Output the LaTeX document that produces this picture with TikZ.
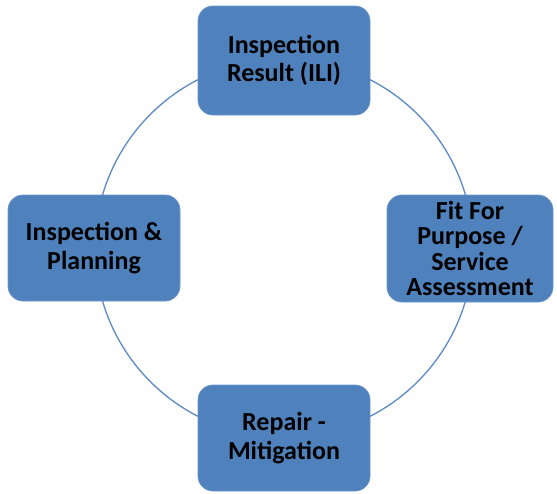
\documentclass[tikz,border=0pt]{standalone}
\usepackage{fontspec}
\setmainfont{Carlito}
\definecolor{boxfill}{HTML}{4F81BD}
\definecolor{boxedge}{HTML}{6B95C9}
\definecolor{ringcol}{HTML}{5A8AC6}
\begin{document}
\begin{tikzpicture}[x=1pt,y=-1pt,
  stagebox/.style={rectangle, rounded corners=15pt, fill=boxfill, draw=boxedge, line width=0.8pt,
    align=center, text=black, font=\bfseries\fontsize{26}{28.5}\selectfont, inner sep=0pt},
  ring/.style={draw=ringcol, line width=1.3pt}]
\useasboundingbox (0,0) rectangle (557,493);
\coordinate (c) at (284,248);
\draw[ring] (c) circle[radius=189];
\node[stagebox, minimum width=172, minimum height=109] (ili) at (284,60.5) {Inspection\\Result (ILI)};
\node[stagebox, minimum width=166, minimum height=107, font=\bfseries\fontsize{26}{25.5}\selectfont] (ffp) at (470,248.5) {Fit For\\Purpose /\\Service\\Assessment};
\node[stagebox, minimum width=172, minimum height=106] (rep) at (284,438) {Repair -\\Mitigation};
\node[stagebox, minimum width=172, minimum height=106] (plan) at (94,248) {Inspection \&\\Planning};
\end{tikzpicture}
\end{document}
